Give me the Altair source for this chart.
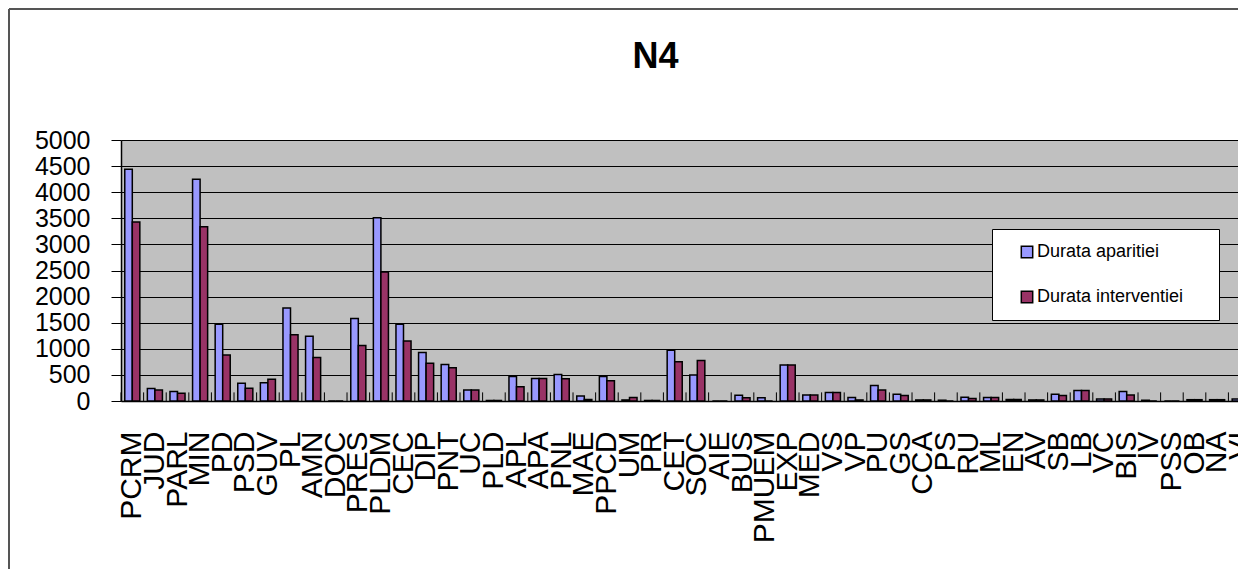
import altair as alt
import pandas as pd

chart_title = "N4"
categories = ["PCRM", "JUD", "PARL", "MIN", "PD", "PSD", "GUV", "PL", "AMN", "DOC",
              "PRES", "PLDM", "CEC", "DIP", "PNT", "UC", "PLD", "APL", "APA", "PNL",
              "MAE", "PPCD", "UM", "PR", "CET", "SOC", "AIE", "BUS", "PMUEM", "EXP",
              "MED", "VS", "VP", "PU", "GS", "CCA", "PS", "RU", "ML", "EN",
              "AV", "SB", "LB", "VC", "BIS", "IV", "PSS", "OB", "NA", "VI"]
durata_aparitiei = [4440, 240, 180, 4250, 1470, 340, 350, 1780, 1240, 0,
                    1580, 3510, 1470, 930, 700, 210, 10, 470, 430, 510,
                    95, 470, 20, 10, 970, 500, 0, 110, 60, 690,
                    115, 165, 65, 295, 130, 20, 15, 70, 65, 30,
                    20, 130, 200, 40, 180, 15, 0, 25, 25, 40]
durata_interventiei = [3430, 210, 150, 3340, 880, 245, 415, 1270, 835, 0,
                       1065, 2470, 1150, 725, 635, 210, 10, 275, 430, 425,
                       30, 390, 65, 10, 750, 775, 0, 60, 0, 690,
                       115, 165, 20, 210, 105, 20, 0, 50, 65, 30,
                       20, 105, 200, 40, 115, 0, 0, 25, 25, 40]
series_names = ["Durata aparitiei", "Durata interventiei"]
series_colors = ["#9999FF", "#993366"]
y_ticks = list(range(0, 5001, 500))

rows = []
for c, a, b in zip(categories, durata_aparitiei, durata_interventiei):
    rows.append({"cat": c, "series": series_names[0], "value": a})
    rows.append({"cat": c, "series": series_names[1], "value": b})
df = pd.DataFrame(rows)
tick_df = pd.DataFrame({"cat": categories})

W, H = 1117, 261
X_RANGE = 1130
FONT = "Liberation Sans"

x_scale = alt.Scale(domain=categories, range=[0, X_RANGE], paddingInner=1 / 3, paddingOuter=1 / 6)
y_scale = alt.Scale(domain=[0, 5000], nice=False)

x_axis = alt.Axis(title=None, labelAngle=-90, labelFontSize=30, labelFont=FONT,
                  labelColor="black", labelPadding=30, ticks=False, tickSize=0,
                  domainColor="black", domainWidth=1.5, labelOverlap=False,
                  grid=False, labelLimit=300)
y_axis = alt.Axis(title=None, values=y_ticks, labelFontSize=25, labelFont=FONT,
                  labelColor="black", tickSize=10, tickColor="black", labelPadding=21,
                  gridColor="black", gridWidth=1, grid=True, domainColor="black",
                  domainWidth=1.5, labelOverlap=False, format="d")

bars = alt.Chart(df).mark_bar(stroke="black", strokeWidth=1.5, opacity=1).encode(
    x=alt.X("cat:N", scale=x_scale, sort=categories, axis=x_axis),
    xOffset=alt.XOffset("series:N",
                        scale=alt.Scale(domain=series_names, paddingInner=0, paddingOuter=0)),
    y=alt.Y("value:Q", scale=y_scale, axis=y_axis),
    color=alt.Color("series:N",
                    scale=alt.Scale(domain=series_names, range=series_colors),
                    legend=alt.Legend(title=" ", titleOrient="right", titleFontSize=18,
                                      titlePadding=22, orient="none", legendX=871, legendY=89,
                                      direction="vertical", fillColor="white",
                                      strokeColor="black", padding=14, symbolOffset=12,
                                      rowPadding=27, labelFontSize=18, labelFont=FONT,
                                      labelColor="black", symbolType="square",
                                      symbolSize=130, symbolStrokeColor="black",
                                      symbolStrokeWidth=1.5, labelOffset=1,
                                      symbolOpacity=1)),
)

ticks = alt.Chart(tick_df).mark_rule(color="black", strokeWidth=1, xOffset=-3.75).encode(
    x=alt.X("cat:N", sort=categories, bandPosition=0, scale=x_scale, axis=x_axis),
    y=alt.YDatum(0, scale=y_scale, axis=y_axis),
    y2=alt.datum(165),
)

frame_data = pd.DataFrame({"k": [0]})
frame_left = alt.Chart(frame_data).mark_rule(color="#555555", strokeWidth=2).encode(
    x=alt.value(-112), y=alt.value(-131), y2=alt.value(H + 200),
)
frame_top = alt.Chart(frame_data).mark_rule(color="#555555", strokeWidth=2).encode(
    x=alt.value(-112), x2=alt.value(W + 200), y=alt.value(-131),
)

chart = alt.layer(bars, ticks, frame_left, frame_top).properties(
    width=W,
    height=H,
    title=alt.Title(chart_title, fontSize=36, font=FONT, fontWeight="bold", color="black",
                    anchor="middle", frame="group", dx=-24, dy=96, offset=0,
                    baseline="alphabetic"),
    autosize=alt.AutoSizeParams(type="none"),
    padding={"left": 113, "top": 132, "right": 0, "bottom": 168},
    background="white",
).configure_view(fill="#C0C0C0", stroke="transparent", strokeWidth=0)

chart.save("out.html", embed_options={"renderer": "svg", "actions": False})
